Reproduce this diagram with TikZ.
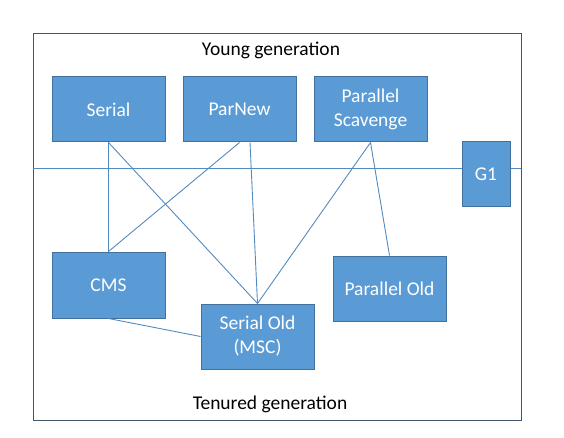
\documentclass[tikz,border=0pt]{standalone}
\usepackage{fontspec}
\setmainfont{Carlito}
\usetikzlibrary{positioning}

\definecolor{gcblue}{HTML}{5B9BD5}
\definecolor{gcedge}{HTML}{41719C}
\definecolor{gcframe}{HTML}{44546A}

\tikzset{
  gc/.style={draw=gcedge, fill=gcblue, line width=1pt, text=white,
    minimum width=113pt, minimum height=65pt, align=center, inner sep=0pt},
  link/.style={draw=gcblue!90!black, line width=0.9pt}
}

\begin{document}
\begin{tikzpicture}[x=1pt,y=-1pt]
\fontsize{19.5}{24}\selectfont
\useasboundingbox (0,0) rectangle (564,438);

\draw[gcframe, line width=1pt] (33,34) rectangle (521,420);
\draw[link] (33,168) -- (521,168);

\node (young) at (271,50) {Young generation};
\node (tenured) at (270,404) {Tenured generation};

\node[gc] (serial) at (108.5,109.5) {Serial};
\node[gc] (parnew) at (239.5,109.5) {ParNew};
\node[gc] (pscav) at (370.5,109.5) {Parallel\\Scavenge};
\node[gc, minimum width=48pt] (g1) at (486,174.5) {G1};
\node[gc, minimum height=66pt] (cms) at (108.5,285) {CMS};
\node[gc] (sold) at (257.5,336.5) {Serial Old\\(MSC)};
\node[gc] (pold) at (389.5,288.5) {Parallel Old};

\path[link] (serial.south) -- (cms.north);
\path[link] (serial.south) -- (sold.north);
\path[link] (parnew.south) -- (cms.north);
\path[link] ([xshift=10.5pt]parnew.south) -- (sold.north);
\path[link] (pscav.south) -- (sold.north);
\path[link] (pscav.south) -- (pold.north);
\path[link] (cms.south) -- (sold.west);
\end{tikzpicture}
\end{document}
